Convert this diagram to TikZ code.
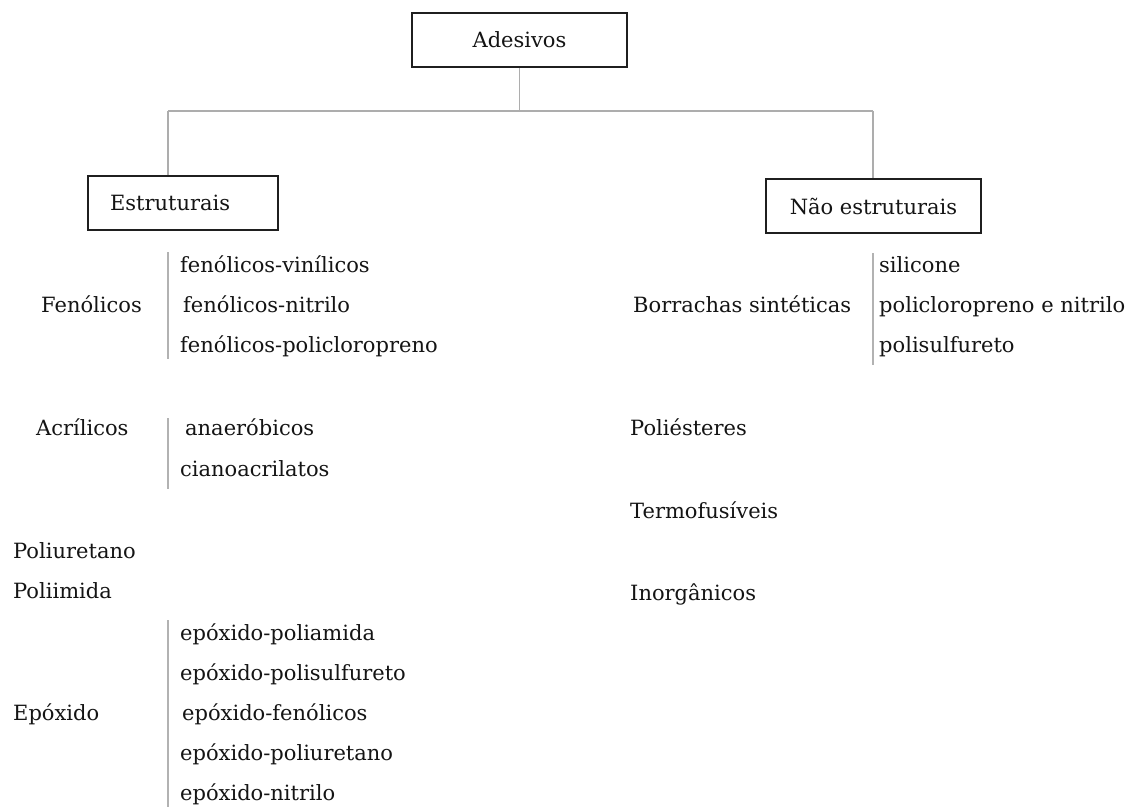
\documentclass[tikz,border=0pt]{standalone}
\usepackage{fontspec}
\setmainfont{DejaVu Serif}
\begin{document}
\begin{tikzpicture}[x=1pt,y=-1pt,
  every node/.style={font=\fontsize{21}{25}\selectfont, text=black!92},
  item/.style={inner sep=0pt, anchor=base west},
  catbox/.style={draw=black!88, line width=1.6pt, inner sep=0pt},
  link/.style={draw=black!32, line width=1.4pt},
  bar/.style={draw=black!30, line width=1.4pt}]
\useasboundingbox[fill=white] (0,0) rectangle (1131,807);

% category boxes
\node[catbox, minimum width=215pt, minimum height=54pt] (ades) at (519.5,40) {Adesivos};
\node[catbox, minimum height=54pt, text width=146pt, inner xsep=22pt, align=left] (estr) at (183,203) {Estruturais};
\node[catbox, minimum width=215pt, minimum height=54pt] (nestr) at (873.5,206) {Não estruturais};

% tree connectors
\coordinate (jm) at (ades.south |- 0,111);
\coordinate (jl) at (168,111);
\coordinate (jr) at (873,111);
\draw[link] (ades.south) -- (jm);
\draw[link] (jl) -- (jr);
\draw[link] (jl) -- (jl |- estr.north);
\draw[link] (jr) -- (jr |- nestr.north);

% structural adhesives
\node[item] (fen) at (41,312) {Fenólicos};
\node[item] (fen1) at (180,272) {fenólicos-vinílicos};
\node[item] (fen2) at (183,312) {fenólicos-nitrilo};
\node[item] (fen3) at (180,352) {fenólicos-policloropreno};
\draw[bar] (168,252) -- (168,359);

\node[item] (acr) at (36,435) {Acrílicos};
\node[item] (acr1) at (185,435) {anaeróbicos};
\node[item] (acr2) at (180,476) {cianoacrilatos};
\draw[bar] (168,418) -- (168,489);

\node[item] (pur) at (13,558) {Poliuretano};
\node[item] (pim) at (13,598) {Poliimida};

\node[item] (epo) at (13,720) {Epóxido};
\node[item] (epo1) at (180,640) {epóxido-poliamida};
\node[item] (epo2) at (180,680) {epóxido-polisulfureto};
\node[item] (epo3) at (182,720) {epóxido-fenólicos};
\node[item] (epo4) at (180,760) {epóxido-poliuretano};
\node[item] (epo5) at (180,800) {epóxido-nitrilo};
\draw[bar] (168,620) -- (168,807);

% non-structural adhesives
\node[item] (bor) at (633,312) {Borrachas sintéticas};
\node[item] (bor1) at (879,272) {silicone};
\node[item] (bor2) at (879,312) {policloropreno e nitrilo};
\node[item] (bor3) at (879,352) {polisulfureto};
\draw[bar] (873,253) -- (873,365);

\node[item] (pes) at (630,435) {Poliésteres};
\node[item] (ter) at (630,518) {Termofusíveis};
\node[item] (ino) at (630,600) {Inorgânicos};
\end{tikzpicture}
\end{document}
